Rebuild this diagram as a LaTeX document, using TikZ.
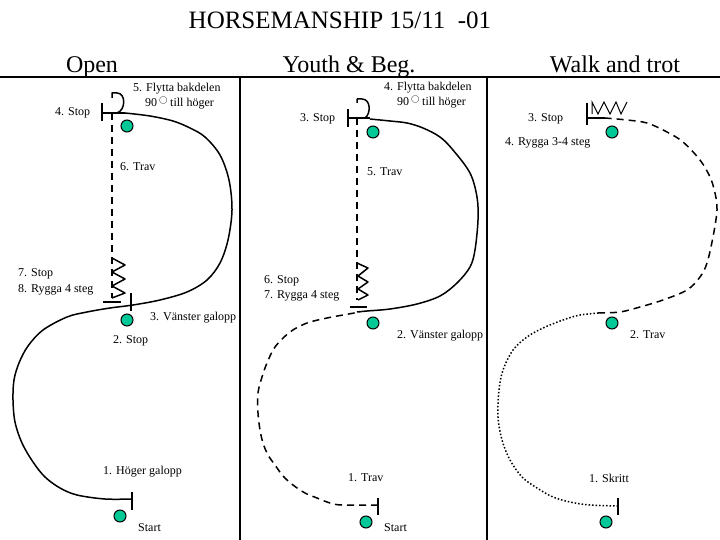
\documentclass[tikz,border=0pt]{standalone}
\usepackage{fontspec}
\setmainfont{Liberation Serif}
\usetikzlibrary{positioning}
\definecolor{conegreen}{RGB}{0,200,150}
\tikzset{route/.style={line width=1.5pt,line join=round}}
\tikzset{routedash/.style={route,dash pattern=on 7pt off 5pt}}
\tikzset{routedot/.style={route,dash pattern=on 1.5pt off 2pt}}
\tikzset{bar/.style={line width=2pt}}
\tikzset{cone/.style={circle,draw=black,line width=1pt,fill=conegreen,inner sep=0pt,minimum size=12pt}}
\tikzset{lbl/.style={inner sep=0pt,anchor=west,font=\fontsize{12}{14}\selectfont}}
\tikzset{head/.style={inner sep=0pt,anchor=base,font=\fontsize{24}{28}\selectfont}}

\begin{document}
\begin{tikzpicture}[x=1pt,y=-1pt]
\useasboundingbox (0,0) rectangle (720,540);
% frame
\draw[bar] (0,77) -- (720,77);
\draw[bar] (240,77) -- (240,540);
\draw[bar] (487,77) -- (487,540);
\node (title) [head,font=\fontsize{25}{30}\selectfont] at (340,29) {HORSEMANSHIP 15/11\ \ -01};
\node (open) [head] at (92,73) {Open};
\node (youth) [head] at (349,73) {Youth \& Beg.};
\node (walk) [head] at (615,73) {Walk and trot};
%
% Open
\node (o1) [cone] at (120,516) {};
\node (o2) [cone] at (127,320) {};
\node (o3) [cone] at (127,126) {};
\node (o-start) [lbl] at (138,528) {Start};
\node (o-l1) [lbl] at (103,472) {1. Höger galopp};
\node (o-l2) [lbl] at (113,341) {2. Stop};
\node (o-l3) [lbl] at (150,318) {3. Vänster galopp};
\node (o-l4) [lbl] at (55,113) {4. Stop};
\node (o-l5) [lbl] at (133,89) {5. Flytta bakdelen};
\node (o-l5b) [lbl] at (145,103) {90\,$^{\bigcirc}$\,till höger};
\node (o-l6) [lbl] at (120,167) {6. Trav};
\node (o-l7) [lbl] at (18,274) {7. Stop};
\node (o-l8) [lbl] at (18,290) {8. Rygga 4 steg};
\draw[route] plot[smooth,tension=0.55] coordinates {(132,499) (105,499) (77,495) (60,488) (45,477) (33,462) (22,443) (15,422) (13,400) (14,380) (19,363) (28,346) (43,330) (67,317) (87,312) (110,308) (133,305) (160,300) (187,292) (207,280) (220,263) (228,240) (232,210) (229,180) (220,155) (205,137) (190,128) (173,121) (150,116) (125,113)};
\draw[bar] (132,492) -- (132,510);
\draw[bar] (102,103) -- (102,121);
\draw[route] (102,113) -- (125,113);
\draw[route] (112,98) -- (112,93) -- (117,93) .. controls (126,93) and (126,110) .. (117,113);
\draw[routedash] (112,113) -- (112,298);
\draw[route] (112,258) -- (125,265) -- (112,272) -- (125,279) -- (112,286) -- (125,293) -- (112,298);
\draw[bar] (103,302) -- (121,302);
\draw[bar] (131,293) -- (131,311);
%
% Youth & Beg.
\node (y1) [cone] at (366,522) {};
\node (y2) [cone] at (373,323) {};
\node (y3) [cone] at (373,132) {};
\node (y-start) [lbl] at (384,528) {Start};
\node (y-l1) [lbl] at (348,478) {1. Trav};
\node (y-l2) [lbl] at (397,336) {2. Vänster galopp};
\node (y-l3) [lbl] at (300,119) {3. Stop};
\node (y-l4) [lbl] at (384,88) {4. Flytta bakdelen};
\node (y-l4b) [lbl] at (397,102) {90\,$^{\bigcirc}$\,till höger};
\node (y-l5) [lbl] at (367,172) {5. Trav};
\node (y-l6) [lbl] at (264,281) {6. Stop};
\node (y-l7) [lbl] at (264,296) {7. Rygga 4 steg};
\draw[routedash] plot[smooth,tension=0.55] coordinates {(378,505) (342,505) (330,503) (317,498) (305,493) (293,485) (283,476) (275,465) (268,455) (263,443) (260,430) (258,413) (258,393) (262,377) (267,363) (275,347) (290,332) (307,323) (327,318) (343,315) (360,312)};
\draw[route] plot[smooth,tension=0.55] coordinates {(357,312) (367,311) (390,309) (417,304) (440,296) (457,283) (470,267) (475,250) (478,220) (477,197) (470,173) (453,150) (440,137) (423,128) (407,123) (390,121) (370,119)};
\draw[bar] (378,498) -- (378,515);
\draw[bar] (348,109) -- (348,127);
\draw[route] (348,118) -- (370,118);
\draw[route] (357,103) -- (357,99) -- (362,99) .. controls (371,99) and (371,114) .. (365,118);
\draw[routedash] (357,118) -- (357,300);
\draw[route] (357,263) -- (368,268) -- (358,276) -- (368,282) -- (358,289) -- (368,295) -- (358,300);
\draw[bar] (350,307) -- (367,307);
%
% Walk and trot
\node (w1) [cone] at (606,522) {};
\node (w2) [cone] at (612,323) {};
\node (w3) [cone] at (612,132) {};
\node (w-l1) [lbl] at (589,478) {1. Skritt};
\node (w-l2) [lbl] at (630,335) {2. Trav};
\node (w-l3) [lbl] at (528,119) {3. Stop};
\node (w-l4) [lbl] at (505,143) {4. Rygga 3-4 steg};
\draw[routedot] plot[smooth,tension=0.55] coordinates {(618,506) (590,505) (570,502) (553,497) (537,488) (522,477) (510,460) (502,440) (498,417) (499,390) (503,370) (513,350) (527,337) (543,328) (563,320) (580,315) (600,313)};
\draw[routedash] plot[smooth,tension=0.55] coordinates {(598,313) (620,312) (640,307) (663,300) (687,290) (700,277) (707,263) (713,237) (717,210) (715,193) (710,177) (700,160) (683,142) (667,132) (647,123) (627,120) (605,118)};
\draw[bar] (618,498) -- (618,515);
\draw[bar] (587,103) -- (587,125);
\draw[route] (587,118) -- (605,118);
\draw[line width=1pt] (592,114) -- (592,102) -- (598,114) -- (604,102) -- (610,114) -- (616,102) -- (621,114) -- (627,102);
\end{tikzpicture}
\end{document}
